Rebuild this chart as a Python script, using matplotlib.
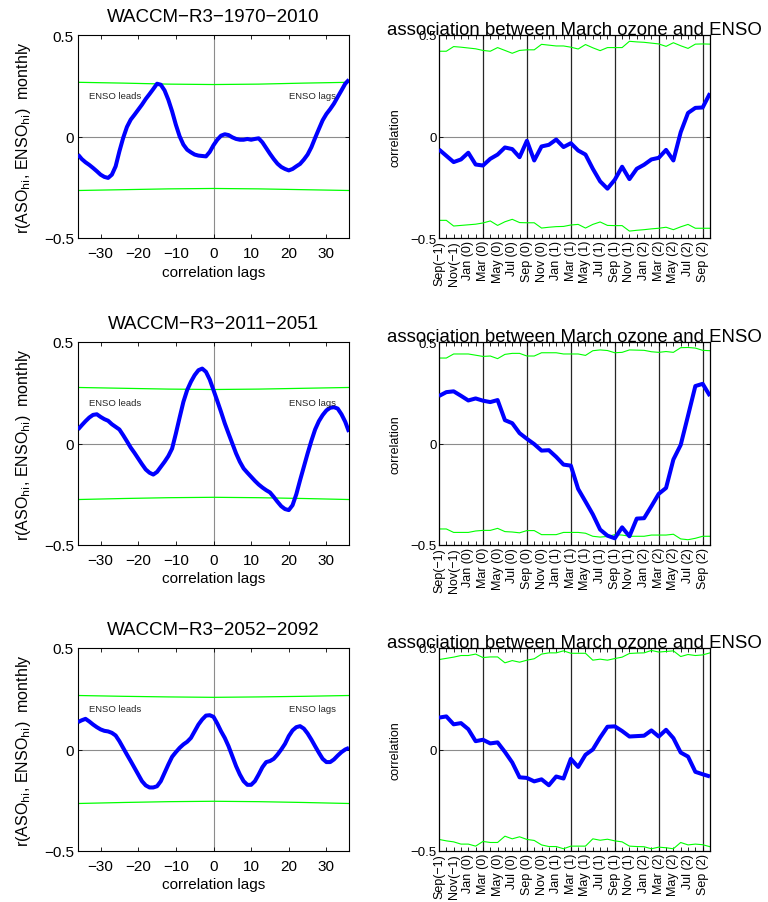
import numpy as np
import matplotlib
matplotlib.use("Agg")
import matplotlib.pyplot as plt

plt.rcParams['font.family'] = ['Liberation Sans', 'DejaVu Sans']

# ---------------- data ----------------
lags = list(range(-36, 37))
titles_left = ["WACCM\u2212R3\u22121970\u22122010", "WACCM\u2212R3\u22122011\u22122051", "WACCM\u2212R3\u22122052\u22122092"]

lag_r_1 = [-0.089, -0.111, -0.127, -0.140, -0.155, -0.171, -0.188, -0.199, -0.204, -0.188, -0.147, -0.073,
           -0.007, 0.047, 0.083, 0.107, 0.132, 0.157, 0.185, 0.209, 0.234, 0.260, 0.255, 0.227,
           0.181, 0.124, 0.058, 0.001, -0.040, -0.065, -0.078, -0.089, -0.094, -0.096, -0.098, -0.076,
           -0.043, -0.016, 0.004, 0.011, 0.007, -0.004, -0.012, -0.016, -0.016, -0.012, -0.016, -0.012,
           -0.009, -0.029, -0.057, -0.085, -0.111, -0.134, -0.150, -0.160, -0.167, -0.160, -0.147, -0.135,
           -0.114, -0.089, -0.053, -0.007, 0.037, 0.080, 0.111, 0.135, 0.162, 0.195, 0.227, 0.260, 0.280]
lag_r_2 = [0.069, 0.090, 0.110, 0.128, 0.141, 0.144, 0.131, 0.120, 0.112, 0.095, 0.082, 0.069,
           0.041, 0.011, -0.020, -0.046, -0.074, -0.102, -0.128, -0.144, -0.153, -0.140, -0.115, -0.090,
           -0.062, -0.025, 0.049, 0.128, 0.205, 0.263, 0.304, 0.337, 0.361, 0.369, 0.353, 0.315,
           0.263, 0.210, 0.156, 0.099, 0.049, 0.000, -0.049, -0.090, -0.123, -0.144, -0.164, -0.184,
           -0.202, -0.217, -0.230, -0.241, -0.263, -0.287, -0.309, -0.323, -0.328, -0.304, -0.250, -0.181,
           -0.115, -0.049, 0.013, 0.069, 0.110, 0.140, 0.163, 0.176, 0.179, 0.172, 0.144, 0.107, 0.057]
lag_r_3 = [0.135, 0.144, 0.151, 0.138, 0.123, 0.110, 0.099, 0.092, 0.089, 0.082, 0.069, 0.041,
           0.008, -0.025, -0.057, -0.090, -0.123, -0.156, -0.177, -0.187, -0.187, -0.181, -0.156, -0.115,
           -0.074, -0.036, -0.013, 0.008, 0.025, 0.038, 0.057, 0.090, 0.123, 0.148, 0.167, 0.169,
           0.161, 0.128, 0.090, 0.057, 0.016, -0.033, -0.082, -0.123, -0.156, -0.174, -0.174, -0.156,
           -0.123, -0.087, -0.062, -0.057, -0.046, -0.025, 0.000, 0.028, 0.066, 0.094, 0.110, 0.115,
           0.103, 0.079, 0.049, 0.016, -0.016, -0.046, -0.062, -0.062, -0.049, -0.030, -0.013, 0.000, 0.008]

sig_lags = [-36, -24, -12, 0, 12, 24, 36]
sig_up_1 = [0.267, 0.263, 0.258, 0.256, 0.258, 0.263, 0.267]
sig_lo_1 = [-0.266, -0.262, -0.258, -0.256, -0.258, -0.262, -0.266]
sig_up_2 = [0.276, 0.272, 0.268, 0.266, 0.268, 0.272, 0.276]
sig_lo_2 = [-0.276, -0.271, -0.267, -0.265, -0.267, -0.271, -0.276]
sig_up_3 = [0.266, 0.262, 0.259, 0.257, 0.259, 0.262, 0.266]
sig_lo_3 = [-0.266, -0.261, -0.257, -0.255, -0.257, -0.261, -0.266]

months = list(range(1, 39))
month_labels = ["Sep(\u22121)", "Nov(\u22121)", "Jan (0)", "Mar (0)", "May (0)", "Jul (0)", "Sep (0)",
                "Nov (0)", "Jan (1)", "Mar (1)", "May (1)", "Jul (1)", "Sep (1)", "Nov (1)",
                "Jan (2)", "Mar (2)", "May (2)", "Jul (2)", "Sep (2)"]
season_marks = [7, 13, 19, 25, 31, 37]

mon_r_1 = [-0.064, -0.095, -0.126, -0.113, -0.080, -0.138, -0.143, -0.110, -0.089, -0.054, -0.062, -0.102,
           -0.021, -0.118, -0.049, -0.041, -0.015, -0.052, -0.033, -0.069, -0.089, -0.159, -0.221, -0.257,
           -0.213, -0.149, -0.210, -0.159, -0.139, -0.113, -0.105, -0.066, -0.118, 0.021, 0.116, 0.141, 0.143, 0.213]
mon_up_1 = [0.420, 0.420, 0.443, 0.440, 0.436, 0.432, 0.424, 0.420, 0.438, 0.424, 0.410, 0.424, 0.427,
            0.427, 0.454, 0.450, 0.446, 0.446, 0.440, 0.431, 0.453, 0.437, 0.423, 0.438, 0.438, 0.438,
            0.469, 0.466, 0.464, 0.460, 0.456, 0.444, 0.462, 0.447, 0.434, 0.455, 0.456, 0.455]
mon_lo_1 = [-0.413, -0.413, -0.441, -0.438, -0.435, -0.432, -0.426, -0.416, -0.438, -0.420, -0.408, -0.424,
            -0.425, -0.425, -0.451, -0.447, -0.444, -0.443, -0.436, -0.433, -0.451, -0.433, -0.421, -0.438,
            -0.439, -0.439, -0.466, -0.462, -0.459, -0.455, -0.452, -0.447, -0.459, -0.445, -0.433, -0.452,
            -0.452, -0.452]

mon_r_2 = [0.234, 0.253, 0.257, 0.235, 0.212, 0.222, 0.211, 0.204, 0.214, 0.115, 0.100, 0.051, 0.023,
           -0.003, -0.035, -0.033, -0.066, -0.104, -0.109, -0.224, -0.286, -0.349, -0.424, -0.454, -0.467,
           -0.413, -0.457, -0.370, -0.368, -0.309, -0.248, -0.219, -0.079, -0.007, 0.137, 0.283, 0.294, 0.234]
mon_up_2 = [0.421, 0.421, 0.441, 0.441, 0.441, 0.435, 0.429, 0.431, 0.418, 0.439, 0.444, 0.444, 0.431,
            0.431, 0.447, 0.447, 0.447, 0.441, 0.441, 0.441, 0.434, 0.457, 0.461, 0.458, 0.447, 0.449,
            0.461, 0.460, 0.459, 0.452, 0.449, 0.453, 0.449, 0.472, 0.473, 0.470, 0.459, 0.457]
mon_lo_2 = [-0.421, -0.421, -0.438, -0.438, -0.438, -0.431, -0.428, -0.428, -0.418, -0.434, -0.436, -0.440,
            -0.429, -0.429, -0.449, -0.449, -0.449, -0.438, -0.438, -0.438, -0.442, -0.457, -0.461, -0.458,
            -0.449, -0.451, -0.457, -0.457, -0.457, -0.451, -0.451, -0.451, -0.447, -0.470, -0.474, -0.467,
            -0.457, -0.457]

mon_r_3 = [0.157, 0.163, 0.124, 0.130, 0.100, 0.041, 0.048, 0.030, 0.035, -0.012, -0.064, -0.137, -0.140,
           -0.157, -0.147, -0.176, -0.133, -0.143, -0.046, -0.086, -0.026, 0.000, 0.059, 0.112, 0.114,
           0.091, 0.064, 0.066, 0.068, 0.094, 0.064, 0.097, 0.056, -0.015, -0.035, -0.110, -0.122, -0.133]
mon_up_3 = [0.443, 0.449, 0.455, 0.463, 0.463, 0.470, 0.453, 0.456, 0.456, 0.427, 0.438, 0.430, 0.440,
            0.447, 0.470, 0.476, 0.476, 0.486, 0.474, 0.474, 0.474, 0.440, 0.445, 0.440, 0.448, 0.455,
            0.473, 0.475, 0.476, 0.488, 0.480, 0.483, 0.486, 0.458, 0.468, 0.463, 0.466, 0.476]
mon_lo_3 = [-0.443, -0.450, -0.455, -0.466, -0.466, -0.476, -0.453, -0.458, -0.458, -0.427, -0.440, -0.430,
            -0.443, -0.448, -0.470, -0.478, -0.478, -0.489, -0.476, -0.476, -0.476, -0.440, -0.447, -0.442,
            -0.450, -0.455, -0.476, -0.478, -0.479, -0.489, -0.481, -0.484, -0.489, -0.458, -0.470, -0.466,
            -0.469, -0.479]

# ---------------- figure ----------------
fig = plt.figure(figsize=(7.68, 9.03), dpi=100)
W, H = 768.0, 903.0
rows = [(36, 239), (343, 546), (649, 852)]
lx0, rx0, aw = 78, 439, 271

left_data = [(lag_r_1, sig_up_1, sig_lo_1), (lag_r_2, sig_up_2, sig_lo_2), (lag_r_3, sig_up_3, sig_lo_3)]
right_data = [(mon_r_1, mon_up_1, mon_lo_1), (mon_r_2, mon_up_2, mon_lo_2), (mon_r_3, mon_up_3, mon_lo_3)]

blue = (0, 0, 1)
green = (0, 1, 0)

for k, (top, bot) in enumerate(rows):
    y0 = 1 - bot / H
    h = (bot - top) / H
    # ----- left panel -----
    ax = fig.add_axes([lx0 / W, y0, aw / W, h])
    r, su, sl = left_data[k]
    ax.axhline(0, color='0.55', lw=0.8, zorder=1)
    ax.axvline(0, color='0.55', lw=0.8, zorder=1)
    ax.plot(sig_lags, su, color=green, lw=0.9, zorder=2)
    ax.plot(sig_lags, sl, color=green, lw=0.9, zorder=2)
    ax.plot(lags, r, color=blue, lw=2.9, zorder=3, solid_joinstyle='round', solid_capstyle='butt')
    ax.set_xlim(-36, 36)
    ax.set_ylim(-0.5, 0.5)
    ax.set_xticks([-30, -20, -10, 0, 10, 20, 30])
    ax.set_yticks([-0.5, 0, 0.5])
    ax.set_yticklabels(["\u22120.5", "0", "0.5"])
    ax.tick_params(direction='in', labelsize=11, length=3, top=True, right=True, width=0.6)
    ax.tick_params(axis='x', pad=6)
    ax.tick_params(axis='y', pad=3)
    ax.set_xlabel("correlation lags", fontsize=11, labelpad=3)
    ax.set_ylabel(r"r(ASO$_{\rm hi}$, ENSO$_{\rm hi}$)  monthly", fontsize=11.5, labelpad=8)
    ax.set_title(titles_left[k], fontsize=13.5, pad=10)
    ax.text(-26.2, 0.2, "ENSO leads", fontsize=6.8, ha='center', va='center', color='0.15')
    ax.text(26.2, 0.2, "ENSO lags", fontsize=6.8, ha='center', va='center', color='0.15')
    for s in ax.spines.values():
        s.set_linewidth(0.8)

    # ----- right panel -----
    ax = fig.add_axes([rx0 / W, y0, aw / W, h])
    r, su, sl = right_data[k]
    ax.axhline(0, color='0.55', lw=0.8, zorder=1)
    for m in season_marks:
        ax.axvline(m, color='0.15', lw=0.9, zorder=1)
    ax.plot(months, su, color=green, lw=0.8, zorder=2)
    ax.plot(months, sl, color=green, lw=0.8, zorder=2)
    ax.plot(months, r, color=blue, lw=2.9, zorder=3, solid_joinstyle='round', solid_capstyle='butt')
    ax.set_xlim(1, 38)
    ax.set_ylim(-0.5, 0.5)
    ax.set_xticks(months)
    labs = []
    for i, m in enumerate(months):
        labs.append(month_labels[i // 2] if i % 2 == 0 else "")
    ax.set_xticklabels(labs, rotation=90, fontsize=9)
    ax.set_yticks([-0.5, 0, 0.5])
    ax.set_yticklabels(["\u22120.5", "0", "0.5"], fontsize=9.5)
    ax.tick_params(direction='in', length=3, top=True, right=True, width=0.6, pad=1.5)
    ax.set_ylabel("correlation", fontsize=9, labelpad=7)
    ax.set_title("association between March ozone and ENSO", fontsize=13.4, pad=1)
    for s in ax.spines.values():
        s.set_linewidth(0.9)

fig.savefig("out.png", dpi=100)
